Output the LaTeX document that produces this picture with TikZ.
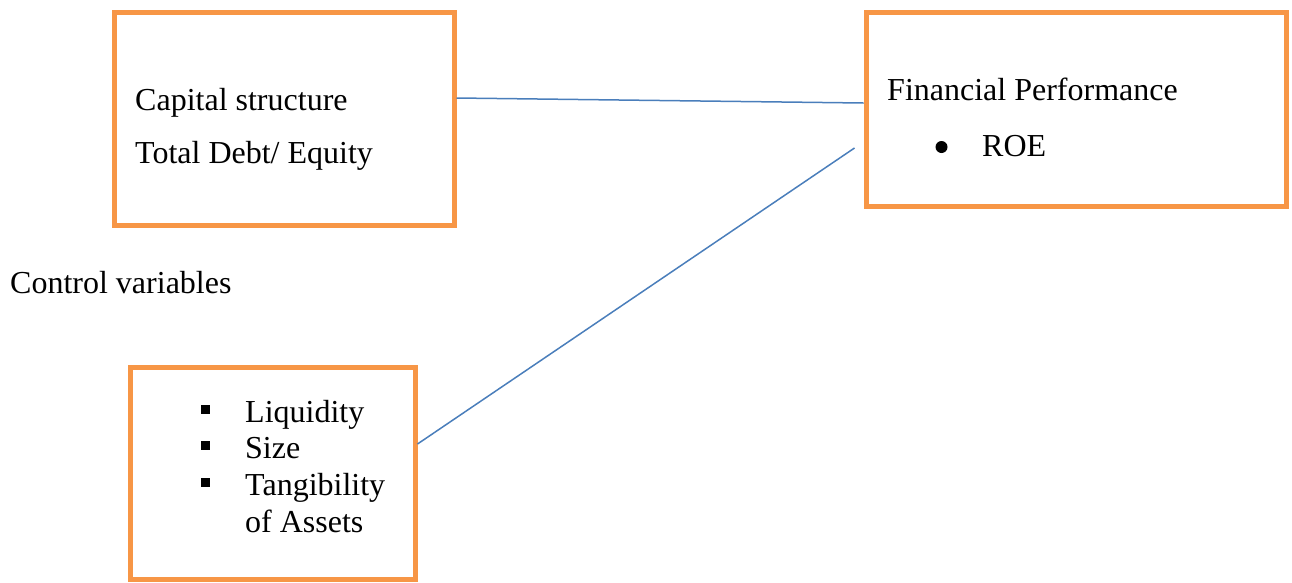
\documentclass[tikz,border=0pt]{standalone}
\usepackage{fontspec}
\setmainfont{Liberation Serif}
\definecolor{boxorange}{HTML}{F79646}
\definecolor{lineblue}{HTML}{4A7EBB}
\begin{document}
\begin{tikzpicture}[x=1pt,y=1pt,
  obox/.style={draw=boxorange,line width=5pt,rectangle,inner sep=0pt,fill=none},
  txt/.style={anchor=base west,inner sep=0pt,font=\fontsize{32}{38}\selectfont},
  sq/.style={fill=black,inner sep=0pt,minimum width=9pt,minimum height=9pt,rectangle},
  dot/.style={fill=black,circle,inner sep=0pt,minimum size=12pt},
  conn/.style={draw=lineblue,line width=1.5pt}]
\useasboundingbox (0,0) rectangle (1292,-582);
% boxes
\node[obox,minimum width=340pt,minimum height=213pt] (cap) at (284,-118.5) {};
\node[obox,minimum width=420pt,minimum height=194pt] (fin) at (1076,-109) {};
\node[obox,minimum width=285pt,minimum height=212pt] (ctl) at (272.5,-473) {};
% texts
\node[txt] (t1) at (135,-110) {Capital structure};
\node[txt] (t2) at (135,-163) {Total Debt/ Equity};
\node[txt] (t3) at (887,-100) {Financial Performance};
\node[dot] (b0) at (941.5,-147) {};
\node[txt] (t4) at (982,-156) {ROE};
\node[txt] (t5) at (10,-293) {Control variables};
\node[sq] (s1) at (205,-409) {};
\node[sq] (s2) at (205,-445) {};
\node[sq] (s3) at (205,-482) {};
\node[txt] (l1) at (245,-422) {Liquidity};
\node[txt] (l2) at (245,-458) {Size};
\node[txt] (l3) at (245,-495) {Tangibility};
\node[txt] (l4) at (245,-532) {of Assets};
% connectors
\coordinate (a1) at ([yshift=20.5pt]cap.east);
\coordinate (a2) at ([yshift=6pt]fin.west);
\coordinate (c1) at ([yshift=29pt]ctl.east);
\coordinate (c2) at ([xshift=-9pt,yshift=-39pt]fin.west);
\draw[conn] (a1) -- (a2);
\draw[conn] (c1) -- (c2);
\end{tikzpicture}
\end{document}
